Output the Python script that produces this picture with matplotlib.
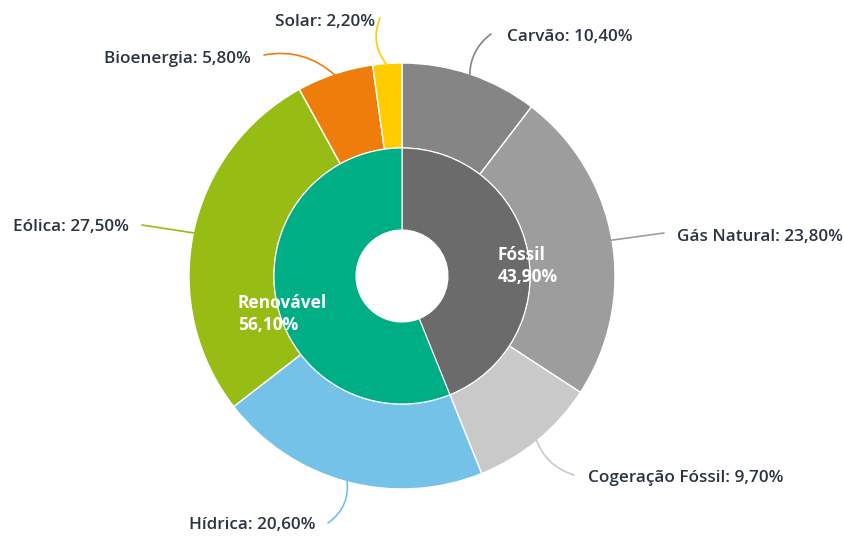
import numpy as np
import matplotlib.pyplot as plt

# dados
fontes = ['Carvão', 'Gás Natural', 'Cogeração Fóssil', 'Hídrica', 'Eólica', 'Bioenergia', 'Solar']
valores = [10.4, 23.8, 9.7, 20.6, 27.5, 5.8, 2.2]
cores = ['#858585', '#9d9d9d', '#c9c9c9', '#74c2e8', '#97bd14', '#ee7d0c', '#ffcc00']

grupos = ['Fóssil', 'Renovável']
valores_grupo = [43.9, 56.1]
cores_grupo = ['#6b6b6b', '#00ae86']

W, H = 845, 536
cx, cy = 402, H - 276
R_ext, R_int, R_furo = 213, 128, 46

# posicao dos rotulos (pixels, y de cima) e fim da linha
rot_pos = [(507, 37, 'left'), (677, 237, 'left'), (588, 478, 'left'),
           (316, 525, 'right'), (129, 227, 'right'), (251, 59, 'right'), (375, 22, 'right')]
linha_fim = [(491, 34), (664, 233), (574, 475), (328, 523), (142, 225), (264, 55), (380, 18)]
curvas = [0.25, 0.0, -0.25, 0.3, 0.0, -0.25, 0.3]

cor_texto = '#2b3442'
fonte = 'Open Sans'


def fmt(v):
    return f'{v:.2f}'.replace('.', ',') + '%'


fig = plt.figure(figsize=(W / 100, H / 100), dpi=100)
ax = fig.add_axes([0, 0, 1, 1])
ax.set_xlim(0, W)
ax.set_ylim(0, H)
ax.set_aspect('equal')
ax.axis('off')

w_ext, _ = ax.pie(valores, colors=cores, startangle=90, counterclock=False,
                  center=(cx, cy), radius=R_ext,
                  wedgeprops=dict(width=R_ext - R_int, edgecolor='white', linewidth=1))
w_int, _ = ax.pie(valores_grupo, colors=cores_grupo, startangle=90, counterclock=False,
                  center=(cx, cy), radius=R_int,
                  wedgeprops=dict(width=R_int - R_furo, edgecolor='white', linewidth=0.8))
ax.set_xlim(0, W)
ax.set_ylim(0, H)

# rotulos externos
acum = np.cumsum([0] + valores)
total = sum(valores)
for i, nome in enumerate(fontes):
    meio = (acum[i] + acum[i + 1]) / 2 / total
    ang = np.deg2rad(90 - 360 * meio)
    px = cx + (R_ext - 2) * np.cos(ang)
    py = cy + (R_ext - 2) * np.sin(ang)
    ex, ey = linha_fim[i]
    ax.annotate('', xy=(px, py), xytext=(ex, H - ey),
                arrowprops=dict(arrowstyle='-', color=cores[i], lw=1.2,
                                shrinkA=0, shrinkB=0,
                                connectionstyle=f'arc3,rad={curvas[i]}'))
    tx, ty, ha = rot_pos[i]
    ax.text(tx, H - ty, f'{nome}: {fmt(valores[i])}', ha=ha, va='center',
            fontsize=12.3, color=cor_texto, family=fonte, fontweight='semibold')

# rotulos internos
pos_int = [(498, 255, 277), (238, 303, 325)]
for i, nome in enumerate(grupos):
    x, y1, y2 = pos_int[i]
    ax.text(x, H - y1, nome, ha='left', va='center', fontsize=12.5, color='white',
            family=fonte, fontweight='bold')
    ax.text(x, H - y2, fmt(valores_grupo[i]), ha='left', va='center', fontsize=12.5,
            color='white', family=fonte, fontweight='bold')

fig.savefig('out.png', dpi=100)
